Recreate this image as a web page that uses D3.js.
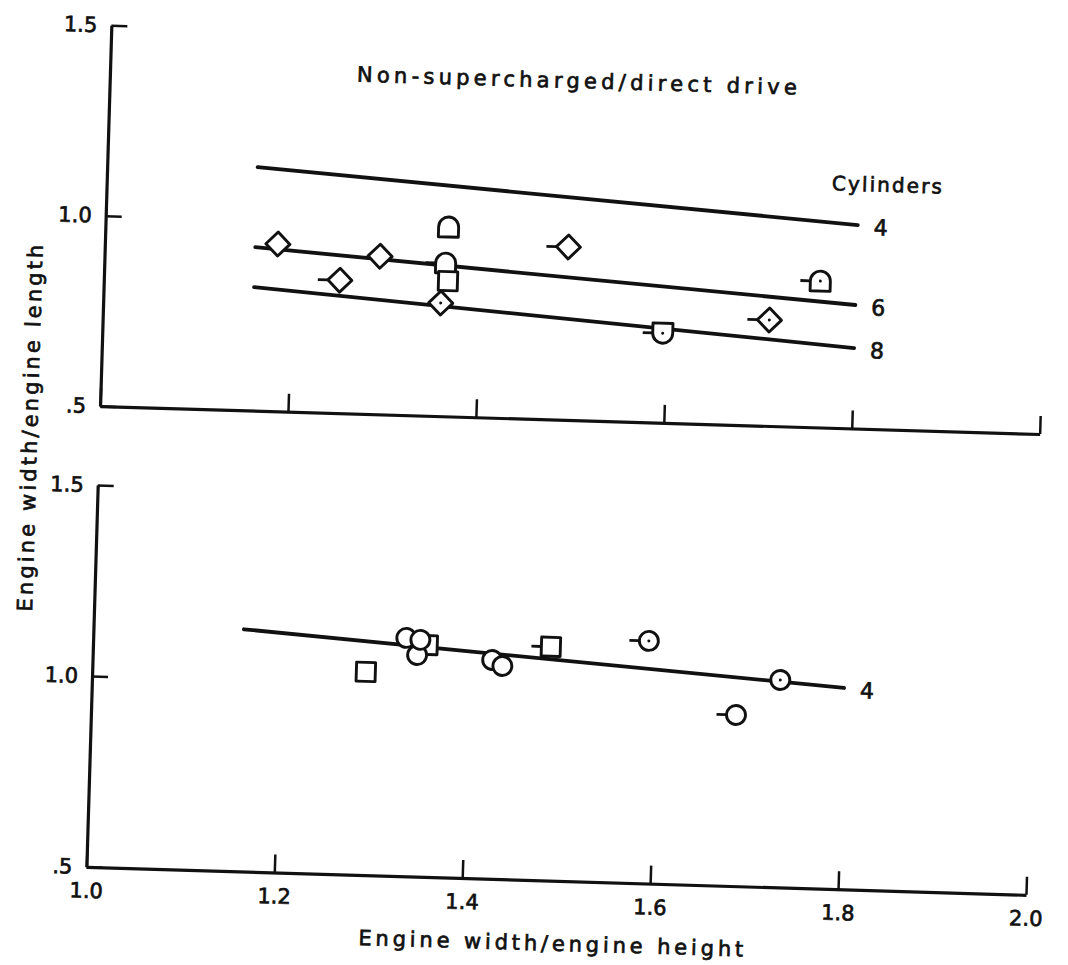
<!DOCTYPE html>
<html>
<head>
<meta charset="utf-8">
<script src="https://cdn.jsdelivr.net/npm/d3@7"></script>
<style>
  body { margin: 0; background: #fff; }
  svg { display: block; }
  text { font-family: "DejaVu Sans", sans-serif; fill: #111; stroke: #111; stroke-width: 0.7px; }
</style>
</head>
<body>
<svg id="chart" width="1068" height="965"></svg>
<script>
// axis ticks
const xTicks = [1.0, 1.2, 1.4, 1.6, 1.8, 2.0];
const yTicks = [0.5, 1.0, 1.5];

// fitted lines, [start, end] in x and y
const fitX = [1.16, 1.80];
const topFit4 = [1.139, 1.034];
const topFit6 = [0.929, 0.824];
const topFit8 = [0.824, 0.711];
const bottomFit4 = [1.134, 1.027];

// engines, top panel (non-supercharged / direct drive)
const topPoints = [
  { x: 1.184, y: 0.939, shape: "diamond", flag: false, dot: false },
  { x: 1.293, y: 0.915, shape: "diamond", flag: false, dot: false },
  { x: 1.251, y: 0.849, shape: "diamond", flag: true,  dot: false },
  { x: 1.359, y: 0.797, shape: "diamond", flag: false, dot: true },
  { x: 1.365, y: 0.997, shape: "archTop", flag: false, dot: false },
  { x: 1.363, y: 0.902, shape: "archTop", flag: true,  dot: false },
  { x: 1.366, y: 0.855, shape: "square",  flag: false, dot: false },
  { x: 1.493, y: 0.954, shape: "diamond", flag: true,  dot: false },
  { x: 1.762, y: 0.884, shape: "archTop", flag: true,  dot: true },
  { x: 1.709, y: 0.778, shape: "diamond", flag: true,  dot: true },
  { x: 1.596, y: 0.735, shape: "archBottom", flag: true, dot: true }
];

// engines, bottom panel
const bottomPoints = [
  { x: 1.291, y: 1.032, shape: "square", flag: false, dot: false },
  { x: 1.356, y: 1.107, shape: "square", flag: false, dot: false },
  { x: 1.333, y: 1.124, shape: "circle", flag: false, dot: false },
  { x: 1.345, y: 1.080, shape: "circle", flag: false, dot: false },
  { x: 1.348, y: 1.120, shape: "circle", flag: false, dot: false },
  { x: 1.425, y: 1.073, shape: "circle", flag: false, dot: false },
  { x: 1.436, y: 1.058, shape: "circle", flag: false, dot: false },
  { x: 1.487, y: 1.112, shape: "square", flag: true,  dot: false },
  { x: 1.591, y: 1.135, shape: "circle", flag: true,  dot: true },
  { x: 1.732, y: 1.043, shape: "circle", flag: false, dot: true },
  { x: 1.686, y: 0.948, shape: "circle", flag: true,  dot: false }
];

const title = "Non-supercharged/direct drive";
const xTitle = "Engine width/engine height";
const yTitle = "Engine width/engine length";

///////////////////////////////////////////////////////////////

const ink = "#111";
const svg = d3.select("#chart");
// the scanned figure sits slightly tilted on the page
const root = svg.append("g").attr("transform", "rotate(1.7 534 482)");

const x = d3.scaleLinear().domain([1, 2]).range([98, 1038]);

const shapes = {
  diamond: { half: 12, d: "M0,-12L12,0L0,12L-12,0Z" },
  square: { half: 9.5, d: "M-9.5,-9.5H9.5V9.5H-9.5Z" },
  circle: { half: 9.5, d: "M-9.5,0A9.5,9.5 0 1 1 9.5,0A9.5,9.5 0 1 1 -9.5,0Z" },
  archTop: { half: 10, d: "M-10,10V0A10,10 0 0 1 10,0V10Z" },
  archBottom: { half: 10, d: "M-10,-10H10V0A10,10 0 0 1 -10,0Z" }
};

function drawPanel(yRange, fits, points, showXLabels) {
  const y = d3.scaleLinear().domain([0.5, 1.5]).range(yRange);
  const g = root.append("g");

  const xAxis = d3.axisBottom(x)
    .tickValues(xTicks)
    .tickSizeInner(-18)
    .tickSizeOuter(0)
    .tickPadding(16)
    .tickFormat(d => (showXLabels ? d3.format(".1f")(d) : ""));

  const yAxis = d3.axisLeft(y)
    .tickValues(yTicks)
    .tickSizeInner(-16)
    .tickSizeOuter(0)
    .tickPadding(14)
    .tickFormat(d => (d === 0.5 ? ".5" : d.toFixed(1)));

  [
    g.append("g").attr("transform", `translate(0,${y(0.5)})`).call(xAxis),
    g.append("g").attr("transform", `translate(${x(1)},0)`).call(yAxis)
  ].forEach(a => {
    a.select(".domain").attr("stroke", ink).attr("stroke-width", 3.2);
    a.selectAll(".tick line").attr("stroke", ink).attr("stroke-width", 2.5);
    a.selectAll(".tick text").attr("font-size", 21).attr("fill", ink);
  });

  fits.forEach(f => {
    g.append("line")
      .attr("x1", x(fitX[0])).attr("y1", y(f.ys[0]))
      .attr("x2", x(fitX[1])).attr("y2", y(f.ys[1]))
      .attr("stroke", ink).attr("stroke-width", 3.8).attr("stroke-linecap", "round");

    g.append("text")
      .attr("x", x(fitX[1]) + 16)
      .attr("y", y(f.ys[1]) + 2)
      .attr("dy", "0.35em")
      .attr("font-size", 22)
      .text(f.label);
  });

  const marks = g.selectAll("g.mark")
    .data(points)
    .join("g")
    .attr("class", "mark")
    .attr("transform", d => `translate(${x(d.x)},${y(d.y)})`);

  marks.filter(d => d.flag)
    .append("line")
    .attr("x1", d => -shapes[d.shape].half - 10)
    .attr("x2", d => -shapes[d.shape].half)
    .attr("y1", 0).attr("y2", 0)
    .attr("stroke", ink).attr("stroke-width", 2.8);

  marks.append("path")
    .attr("d", d => shapes[d.shape].d)
    .attr("fill", "#fff")
    .attr("stroke", ink)
    .attr("stroke-width", 2.9)
    .attr("stroke-linejoin", "round");

  marks.filter(d => d.dot)
    .append("circle")
    .attr("r", 1.5)
    .attr("fill", ink);

  return y;
}

const yTop = drawPanel([419, 38], [
  { label: "4", ys: topFit4 },
  { label: "6", ys: topFit6 },
  { label: "8", ys: topFit8 }
], topPoints, false);

drawPanel([880, 498], [
  { label: "4", ys: bottomFit4 }
], bottomPoints, true);

// texts
root.append("text")
  .attr("x", 345).attr("y", 87)
  .attr("font-size", 21)
  .attr("textLength", 440)
  .attr("lengthAdjust", "spacing")
  .text(title);

root.append("text")
  .attr("x", x(fitX[1]) + 28)
  .attr("y", yTop(topFit4[1]) - 34)
  .attr("text-anchor", "middle")
  .attr("font-size", 20)
  .attr("textLength", 110)
  .attr("lengthAdjust", "spacing")
  .text("Cylinders");

root.append("text")
  .attr("x", 372).attr("y", 950)
  .attr("font-size", 21)
  .attr("textLength", 385)
  .attr("lengthAdjust", "spacing")
  .text(xTitle);

root.append("text")
  .attr("transform", "translate(36,443) rotate(-90)")
  .attr("text-anchor", "middle")
  .attr("font-size", 21)
  .attr("textLength", 367)
  .attr("lengthAdjust", "spacing")
  .text(yTitle);
</script>
</body>
</html>
